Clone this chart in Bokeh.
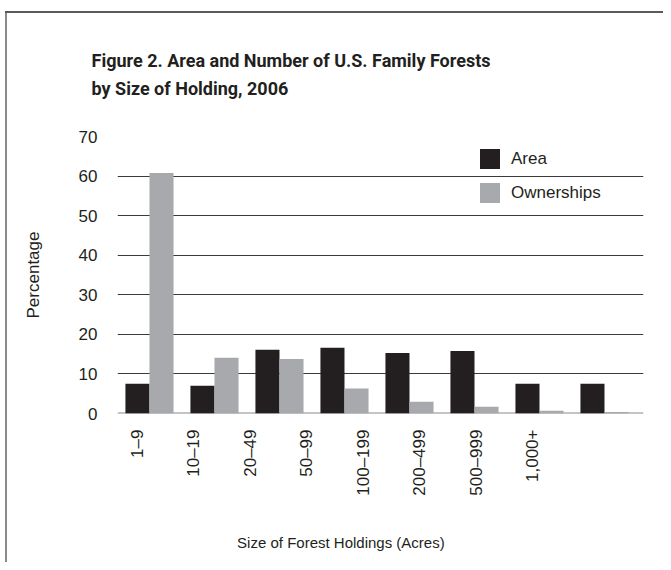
import math
from bokeh.plotting import figure
from bokeh.models import (Range1d, FixedTicker, LinearAxis, ColumnDataSource,
                          Legend, LegendItem, Title, Span)
from bokeh.transform import dodge
from bokeh.embed import file_html
from bokeh.resources import INLINE

categories = ["1–9", "10–19", "20–49", "50–99", "100–199", "200–499", "500–999", "1,000+"]
area = [7.5, 7.0, 16.1, 16.6, 15.3, 15.8, 7.5, 7.5]
ownerships = [60.8, 14.1, 13.8, 6.3, 3.0, 1.7, 0.7, 0.4]
y_ticks = [0, 10, 20, 30, 40, 50, 60, 70]

title_text = "Figure 2. Area and Number of U.S. Family Forests\nby Size of Holding, 2006"
x_title = "Size of Forest Holdings (Acres)"
y_title = "Percentage"

FONT = "Liberation Sans"
TFONT = "Roboto"
TXT = "#231f20"
DARK = "#231f20"
GRAY = "#a7a9ac"

idx = list(range(len(categories)))
source = ColumnDataSource(dict(idx=idx, area=area, own=ownerships))

W, H = 663, 562
FRAME_H = 277
p = figure(width=W, height=H, title=None,
           x_range=Range1d(-0.492, 7.6), y_range=Range1d(0, 70),
           output_backend="svg", toolbar_location=None, x_axis_location=None,
           min_border_left=117, min_border_right=20, min_border_top=136,
           min_border_bottom=H - 136 - FRAME_H, outline_line_color=None,
           border_fill_color=None,
           styles={"background": "linear-gradient(#5a5a5a,#5a5a5a) 5px 11px / 100% 2px no-repeat, "
                                 "linear-gradient(#8a8a8a,#8a8a8a) 5px 11px / 2px 100% no-repeat, #ffffff"})

r1 = p.vbar(x=dodge("idx", -0.185, range=p.x_range), top="area", width=0.37,
            source=source, fill_color=DARK, line_color=None)
r2 = p.vbar(x=dodge("idx", 0.185, range=p.x_range), top="own", width=0.37,
            source=source, fill_color=GRAY, line_color=None)

p.xgrid.visible = False
p.ygrid.ticker = FixedTicker(ticks=y_ticks[1:])
p.ygrid.grid_line_color = "#3a3a3a"
p.ygrid.grid_line_width = 1
base = Span(location=0, dimension="width", line_color="#8a8a8a", line_width=2, level="underlay")
p.add_layout(base)

ya = p.yaxis[0]
ya.ticker = FixedTicker(ticks=y_ticks)
ya.axis_line_color = None
ya.major_tick_line_color = None
ya.minor_tick_line_color = None
ya.major_label_standoff = 14
ya.major_label_text_font = FONT
ya.major_label_text_font_size = "17px"
ya.major_label_text_color = TXT
ya.axis_label = y_title
ya.axis_label_text_font = FONT
ya.axis_label_text_font_size = "17px"
ya.axis_label_text_font_style = "normal"
ya.axis_label_text_color = TXT
ya.axis_label_standoff = 33

# category labels sit on their own scale (they are spaced tighter than the bars)
p.extra_x_ranges = {"labels": Range1d(-0.354, 8.956)}
xa = LinearAxis(x_range_name="labels", ticker=FixedTicker(ticks=idx),
                major_label_overrides={i: c for i, c in enumerate(categories)},
                major_label_orientation=math.pi / 2,
                axis_line_color=None, major_tick_line_color=None,
                minor_tick_line_color=None, major_label_standoff=10,
                major_label_text_font=FONT, major_label_text_font_size="17px",
                major_label_text_color=TXT,
                # trailing no-break spaces shift the centred title left, as in the original
                axis_label=x_title + "\u00a0" * 19,
                axis_label_standoff=35, axis_label_text_font=FONT,
                axis_label_text_font_size="15px", axis_label_text_font_style="normal",
                axis_label_text_color=TXT)
p.add_layout(xa, "below")

t = Title(text=title_text, align="left", offset=-26, vertical_align="bottom",
          text_font=TFONT, text_font_size="18px", text_font_style="bold",
          text_line_height=1.36, text_color=TXT, standoff=74)
p.add_layout(t, "above")

legend = Legend(items=[LegendItem(label="Area", renderers=[r1]),
                       LegendItem(label="Ownerships", renderers=[r2])],
                location=(360, 208), glyph_width=25, glyph_height=25,
                label_height=25, spacing=9, padding=0, margin=0,
                border_line_color=None, background_fill_alpha=0,
                label_standoff=9, label_text_font=FONT,
                label_text_font_size="17px", label_text_color=TXT)
p.add_layout(legend)

open("out.html", "w").write(file_html(p, INLINE))
